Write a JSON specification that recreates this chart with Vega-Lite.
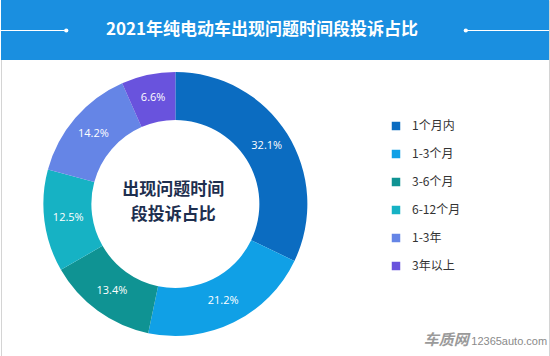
{
  "$schema": "https://vega.github.io/schema/vega-lite/v6.json",
  "width": 550,
  "height": 356,
  "autosize": {"type": "fit", "contains": "padding"},
  "padding": 0,
  "background": "white",
  "view": {"stroke": "#d4d4d4", "strokeWidth": 1},
  "datasets": {
    "slices": [
      {"cat": "1个月内", "pct": 32.1, "label": "32.1%", "order": 1},
      {"cat": "1-3个月", "pct": 21.2, "label": "21.2%", "order": 2},
      {"cat": "3-6个月", "pct": 13.4, "label": "13.4%", "order": 3},
      {"cat": "6-12个月", "pct": 12.5, "label": "12.5%", "order": 4},
      {"cat": "1-3年", "pct": 14.2, "label": "14.2%", "order": 5},
      {"cat": "3年以上", "pct": 6.6, "label": "6.6%", "order": 6}
    ],
    "one": [{"t": "2021年纯电动车出现问题时间段投诉占比"}]
  },
  "layer": [
    {
      "data": {"name": "one"},
      "mark": {"type": "rect", "color": "#1a8fe0"},
      "encoding": {
        "x": {"datum": 0, "type": "quantitative", "scale": {"domain": [0, 550], "nice": false, "zero": false}, "axis": null, "stack": null},
        "x2": {"datum": 550},
        "y": {"datum": 0, "type": "quantitative", "scale": {"domain": [0, 356], "nice": false, "zero": false, "reverse": true}, "axis": null, "stack": null},
        "y2": {"datum": 60}
      }
    },
    {
      "data": {"name": "one"},
      "mark": {"type": "rule", "color": "white", "strokeWidth": 1},
      "encoding": {
        "x": {"datum": 0, "type": "quantitative", "scale": {"domain": [0, 550], "nice": false, "zero": false}, "axis": null, "stack": null},
        "x2": {"datum": 64},
        "y": {"datum": 30.5, "type": "quantitative", "scale": {"domain": [0, 356], "nice": false, "zero": false, "reverse": true}, "axis": null, "stack": null}
      }
    },
    {
      "data": {"name": "one"},
      "mark": {"type": "rule", "color": "white", "strokeWidth": 1},
      "encoding": {
        "x": {"datum": 467, "type": "quantitative", "scale": {"domain": [0, 550], "nice": false, "zero": false}, "axis": null, "stack": null},
        "x2": {"datum": 550},
        "y": {"datum": 30.5, "type": "quantitative", "scale": {"domain": [0, 356], "nice": false, "zero": false, "reverse": true}, "axis": null, "stack": null}
      }
    },
    {
      "data": {"name": "one"},
      "mark": {"type": "point", "filled": true, "color": "white", "size": 18, "opacity": 1},
      "encoding": {
        "x": {"datum": 65.5, "type": "quantitative", "scale": {"domain": [0, 550], "nice": false, "zero": false}, "axis": null, "stack": null},
        "y": {"datum": 30.5, "type": "quantitative", "scale": {"domain": [0, 356], "nice": false, "zero": false, "reverse": true}, "axis": null, "stack": null}
      }
    },
    {
      "data": {"name": "one"},
      "mark": {"type": "point", "filled": true, "color": "white", "size": 18, "opacity": 1},
      "encoding": {
        "x": {"datum": 466.5, "type": "quantitative", "scale": {"domain": [0, 550], "nice": false, "zero": false}, "axis": null, "stack": null},
        "y": {"datum": 30.5, "type": "quantitative", "scale": {"domain": [0, 356], "nice": false, "zero": false, "reverse": true}, "axis": null, "stack": null}
      }
    },
    {
      "data": {"name": "one"},
      "mark": {"type": "text", "color": "white", "font": "Noto Sans CJK SC", "fontWeight": "bold", "fontSize": 17, "align": "center", "baseline": "middle"},
      "encoding": {
        "x": {"datum": 262, "type": "quantitative", "scale": {"domain": [0, 550], "nice": false, "zero": false}, "axis": null, "stack": null},
        "y": {"datum": 30, "type": "quantitative", "scale": {"domain": [0, 356], "nice": false, "zero": false, "reverse": true}, "axis": null, "stack": null},
        "text": {"field": "t"}
      }
    },
    {
      "data": {"name": "slices"},
      "transform": [{"stack": "pct", "groupby": [], "sort": [{"field": "order", "order": "ascending"}], "as": ["p0", "p1"]}],
      "mark": {"type": "arc", "innerRadius": 84, "outerRadius": 132},
      "encoding": {
        "x": {"datum": 175, "type": "quantitative", "scale": {"domain": [0, 550], "nice": false, "zero": false}, "axis": null, "stack": null},
        "y": {"datum": 204, "type": "quantitative", "scale": {"domain": [0, 356], "nice": false, "zero": false, "reverse": true}, "axis": null, "stack": null},
        "theta": {"field": "p0", "type": "quantitative", "scale": {"domain": [0, 100], "nice": false, "zero": false}, "stack": null},
        "theta2": {"field": "p1"},
        "color": {
          "field": "cat",
          "type": "nominal",
          "scale": {
            "domain": ["1个月内", "1-3个月", "3-6个月", "6-12个月", "1-3年", "3年以上"],
            "range": ["#0b6cc1", "#10a0e6", "#0f9393", "#16b2c4", "#6585e6", "#6953dd"]
          },
          "legend": {
            "orient": "none",
            "legendX": 389,
            "legendY": 120,
            "title": null,
            "symbolType": "square",
            "symbolSize": 72,
            "symbolStrokeWidth": 0,
            "labelFont": "Noto Sans CJK SC",
            "labelFontSize": 12,
            "labelColor": "#333333",
            "labelOffset": 10,
            "rowPadding": 16,
            "padding": 0
          }
        }
      }
    },
    {
      "data": {"name": "slices"},
      "transform": [
        {"stack": "pct", "groupby": [], "sort": [{"field": "order", "order": "ascending"}], "as": ["p0", "p1"]},
        {"calculate": "(datum.p0 + datum.p1) / 2", "as": "mid"}
      ],
      "mark": {"type": "text", "radius": 108, "color": "white", "font": "Open Sans", "fontSize": 11, "align": "center", "baseline": "middle"},
      "encoding": {
        "x": {"datum": 175, "type": "quantitative", "scale": {"domain": [0, 550], "nice": false, "zero": false}, "axis": null, "stack": null},
        "y": {"datum": 204, "type": "quantitative", "scale": {"domain": [0, 356], "nice": false, "zero": false, "reverse": true}, "axis": null, "stack": null},
        "theta": {"field": "mid", "type": "quantitative", "scale": {"domain": [0, 100], "nice": false, "zero": false}, "stack": null},
        "text": {"field": "label"}
      }
    },
    {
      "data": {"values": [{"t": "出现问题时间", "yy": 190}, {"t": "段投诉占比", "yy": 215}]},
      "mark": {"type": "text", "color": "#1e2f4f", "font": "Noto Sans CJK SC", "fontWeight": "bold", "fontSize": 17, "align": "center", "baseline": "middle"},
      "encoding": {
        "x": {"datum": 173, "type": "quantitative", "scale": {"domain": [0, 550], "nice": false, "zero": false}, "axis": null, "stack": null},
        "y": {"field": "yy", "type": "quantitative", "scale": {"domain": [0, 356], "nice": false, "zero": false, "reverse": true}, "axis": null, "stack": null},
        "text": {"field": "t"}
      }
    },
    {
      "data": {"values": [{"t": "车质网"}]},
      "mark": {"type": "text", "color": "#9a9a9a", "font": "Noto Sans CJK SC", "fontWeight": "bold", "fontSize": 15, "fontStyle": "italic", "align": "center", "baseline": "middle"},
      "encoding": {
        "x": {"datum": 447, "type": "quantitative", "scale": {"domain": [0, 550], "nice": false, "zero": false}, "axis": null, "stack": null},
        "y": {"datum": 340, "type": "quantitative", "scale": {"domain": [0, 356], "nice": false, "zero": false, "reverse": true}, "axis": null, "stack": null},
        "text": {"field": "t"}
      }
    },
    {
      "data": {"values": [{"t": "12365auto.com"}]},
      "mark": {"type": "text", "color": "#8a8a8a", "font": "Liberation Sans", "fontSize": 11, "align": "left", "baseline": "middle"},
      "encoding": {
        "x": {"datum": 472, "type": "quantitative", "scale": {"domain": [0, 550], "nice": false, "zero": false}, "axis": null, "stack": null},
        "y": {"datum": 342, "type": "quantitative", "scale": {"domain": [0, 356], "nice": false, "zero": false, "reverse": true}, "axis": null, "stack": null},
        "text": {"field": "t"}
      }
    }
  ]
}
